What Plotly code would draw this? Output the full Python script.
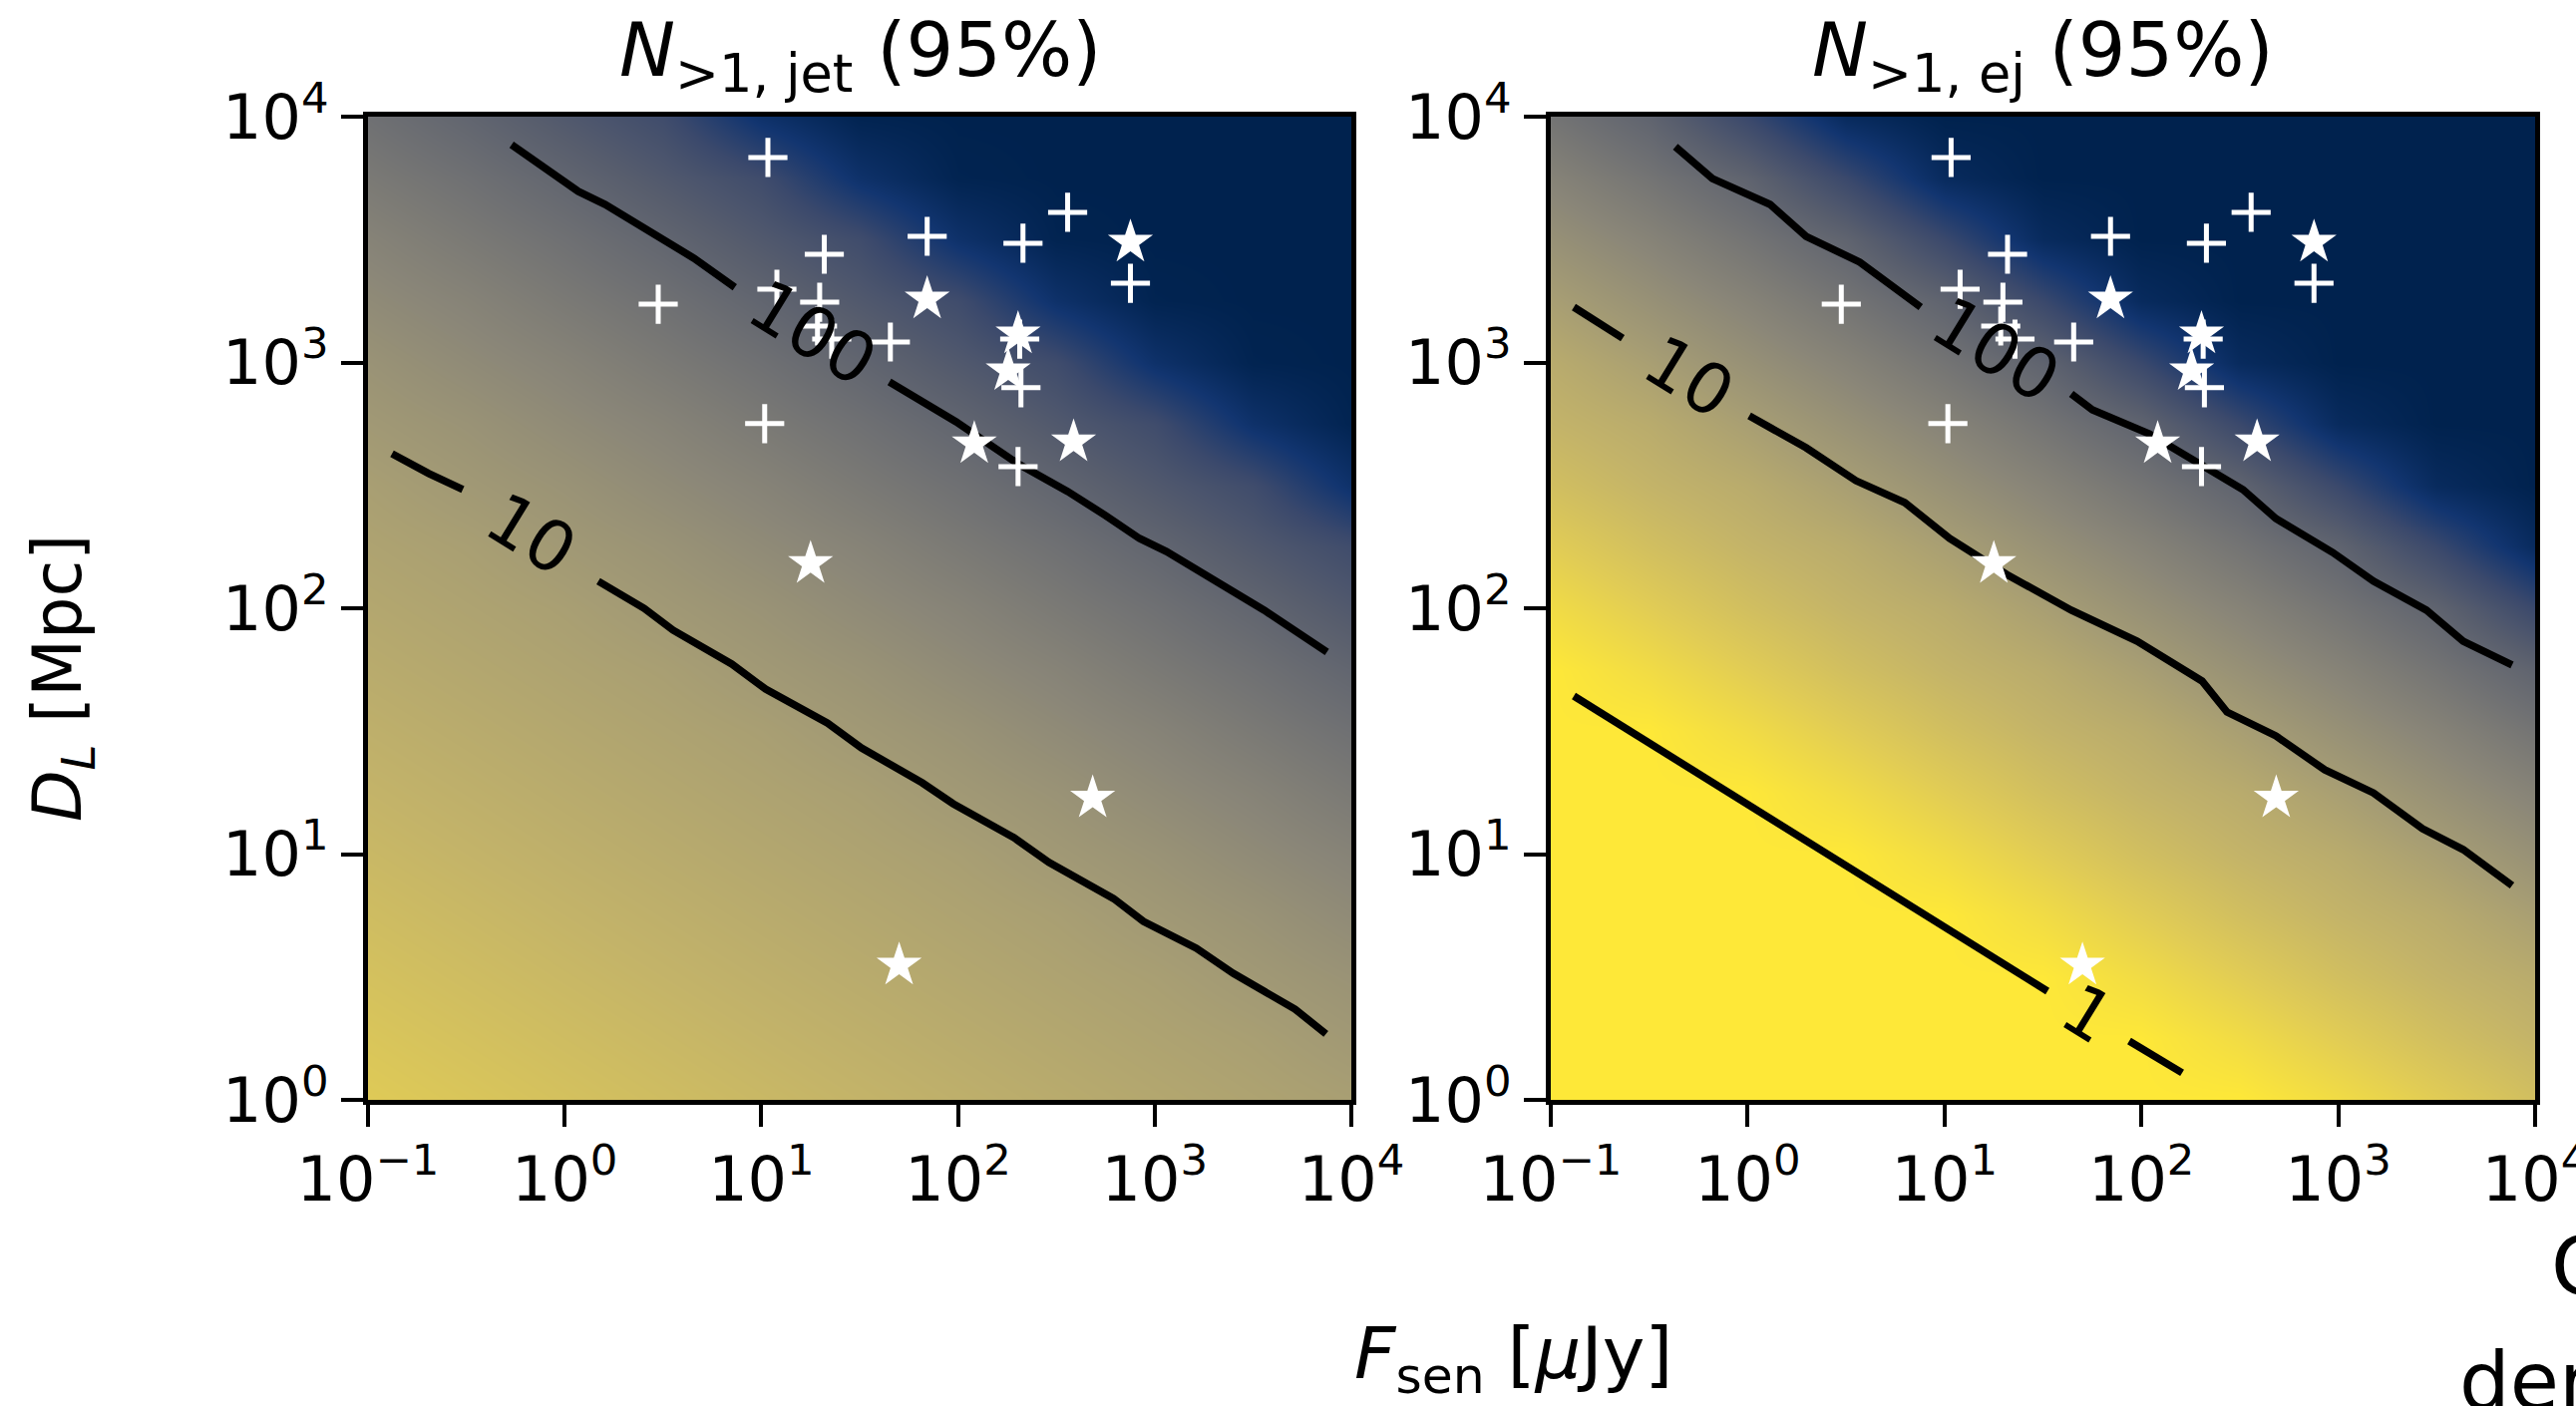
import numpy as np
import plotly.graph_objects as go

W, H = 2583, 1410

# ---------------- data ----------------
# background colour field (0..1 on cividis), read on a grid (log10 units)
grid_logF = [-1.0, -0.5, 0.0, 0.5, 1.0, 1.5, 2.0, 2.5, 3.0, 3.5, 4.0]
grid_logD = [0.0, 0.25, 0.5, 0.75, 1.0, 1.25, 1.5, 1.75, 2.0, 2.25, 2.5, 2.75, 3.0, 3.25, 3.5, 3.75, 4.0]

frac_jet = [
    [.88, .86, .84, .82, .80, .78, .76, .74, .72, .70, .68],
    [.86, .84, .82, .80, .78, .76, .74, .72, .70, .68, .65],
    [.84, .82, .80, .78, .76, .74, .72, .70, .68, .65, .62],
    [.82, .80, .78, .76, .74, .72, .70, .68, .65, .62, .58],
    [.80, .78, .76, .74, .72, .70, .68, .65, .62, .58, .54],
    [.78, .76, .74, .72, .70, .68, .65, .62, .58, .54, .49],
    [.76, .74, .72, .70, .68, .65, .62, .58, .54, .49, .44],
    [.74, .72, .70, .68, .65, .62, .58, .54, .49, .44, .38],
    [.72, .70, .68, .65, .62, .58, .54, .49, .44, .38, .31],
    [.70, .68, .65, .62, .58, .54, .49, .44, .38, .31, .24],
    [.68, .65, .62, .58, .54, .49, .44, .38, .31, .24, .09],
    [.65, .62, .58, .54, .49, .44, .38, .31, .24, .09, .01],
    [.62, .58, .54, .49, .44, .38, .31, .24, .09, .01, 0.0],
    [.58, .54, .49, .44, .38, .31, .24, .09, .01, 0.0, 0.0],
    [.54, .49, .44, .38, .31, .24, .09, .01, 0.0, 0.0, 0.0],
    [.49, .44, .38, .31, .24, .09, .01, 0.0, 0.0, 0.0, 0.0],
    [.44, .38, .31, .24, .09, .01, 0.0, 0.0, 0.0, 0.0, 0.0],
]
frac_ej = [
    [1.0, 1.0, 1.0, 1.0, 1.0, 1.0, 1.0, 1.0, .95, .89, .83],
    [1.0, 1.0, 1.0, 1.0, 1.0, 1.0, 1.0, .95, .89, .83, .78],
    [1.0, 1.0, 1.0, 1.0, 1.0, 1.0, .95, .89, .83, .78, .74],
    [1.0, 1.0, 1.0, 1.0, 1.0, .95, .89, .83, .78, .74, .68],
    [1.0, 1.0, 1.0, 1.0, .95, .89, .83, .78, .74, .68, .61],
    [1.0, 1.0, 1.0, .95, .89, .83, .78, .74, .68, .61, .54],
    [1.0, 1.0, .95, .89, .83, .78, .74, .68, .61, .54, .46],
    [1.0, .95, .89, .83, .78, .74, .68, .61, .54, .46, .37],
    [.95, .89, .83, .78, .74, .68, .61, .54, .46, .37, .22],
    [.89, .83, .78, .74, .68, .61, .54, .46, .37, .22, .05],
    [.83, .78, .74, .68, .61, .54, .46, .37, .22, .05, 0.0],
    [.78, .74, .68, .61, .54, .46, .37, .22, .05, 0.0, 0.0],
    [.74, .68, .61, .54, .46, .37, .22, .05, 0.0, 0.0, 0.0],
    [.68, .61, .54, .46, .37, .22, .05, 0.0, 0.0, 0.0, 0.0],
    [.61, .54, .46, .37, .22, .05, 0.0, 0.0, 0.0, 0.0, 0.0],
    [.54, .46, .37, .22, .05, 0.0, 0.0, 0.0, 0.0, 0.0, 0.0],
    [.46, .37, .22, .05, 0.0, 0.0, 0.0, 0.0, 0.0, 0.0, 0.0],
]

# contour lines (log10 F, log10 D); None = gap for the label
jet_100_logF = [-0.270, 0.069, 0.206, 0.526, 0.657, 0.865, None, 1.651, 1.990, 2.305, 2.558, 2.751, 2.923, 3.060, 3.374, 3.557, 3.876]
jet_100_logD = [3.886, 3.696, 3.643, 3.489, 3.424, 3.306, None, 2.921, 2.759, 2.588, 2.475, 2.377, 2.284, 2.231, 2.085, 1.992, 1.822]
jet_10_logF = [-0.878, -0.691, -0.518, None, 0.171, 0.404, 0.551, 0.850, 1.022, 1.337, 1.509, 1.818, 1.975, 2.284, 2.462, 2.791, 2.943, 3.212, 3.399, 3.714, 3.871]
jet_10_logD = [2.629, 2.548, 2.483, None, 2.110, 2.000, 1.911, 1.773, 1.671, 1.533, 1.432, 1.290, 1.205, 1.067, 0.966, 0.819, 0.726, 0.617, 0.515, 0.369, 0.268]

ej_100_logF = [-0.367, -0.179, 0.114, 0.297, 0.570, 0.778, 0.879, None, 1.644, 1.751, 2.040, 2.268, 2.516, 2.683, 2.972, 3.179, 3.448, 3.635, 3.883]
ej_100_logD = [3.878, 3.748, 3.643, 3.513, 3.408, 3.290, 3.225, None, 2.872, 2.807, 2.710, 2.600, 2.483, 2.365, 2.227, 2.110, 1.992, 1.866, 1.769]
ej_10_logF = [-0.883, -0.635, None, 0.008, 0.297, 0.550, 0.798, 1.026, 1.315, 1.644, 1.979, 2.308, 2.435, 2.683, 2.931, 3.179, 3.428, 3.635, 3.883]
ej_10_logD = [3.225, 3.099, None, 2.783, 2.653, 2.519, 2.430, 2.284, 2.138, 1.992, 1.866, 1.704, 1.578, 1.481, 1.343, 1.249, 1.103, 1.018, 0.872]
ej_1_logF = [-0.883, 0.320, 1.523, None, 1.938, 2.207]
ej_1_logD = [1.643, 1.043, 0.442, None, 0.239, 0.110]

# contour labels: text, log10 F, log10 D
jet_labels = [("100", 1.26, 3.12), ("10", -0.17, 2.30)]
ej_labels = [("100", 1.26, 3.05), ("10", -0.30, 2.94), ("1", 1.73, 0.35)]

# events: F_sen [uJy], D_L [Mpc]
plus_F = [10.8, 361, 69.7, 214, 20.9, 753, 2.99, 12.0, 19.8, 19.3, 22.8, 45.3, 206, 209, 10.4, 202]
plus_D = [6820, 4080, 3260, 3055, 2755, 2100, 1726, 1986, 1758, 1406, 1245, 1211, 1245, 789, 564, 377]
star_F = [753, 69.7, 202, 180, 121, 387, 17.8, 484, 50.2]
star_D = [3083, 1811, 1306, 925, 467, 475, 152, 16.9, 3.53]

tick_vals_x = [-1, 0, 1, 2, 3, 4]
tick_text_x = ["10<sup>\u22121</sup>", "10<sup>0</sup>", "10<sup>1</sup>", "10<sup>2</sup>", "10<sup>3</sup>", "10<sup>4</sup>"]
tick_vals_y = [0, 1, 2, 3, 4]
tick_text_y = ["10<sup>0</sup>", "10<sup>1</sup>", "10<sup>2</sup>", "10<sup>3</sup>", "10<sup>4</sup>"]

titles = ["<i>N</i><sub>&gt;1, jet</sub> (95%)", "<i>N</i><sub>&gt;1, ej</sub> (95%)"]

# ---------------- figure ----------------
FONT = "DejaVu Sans"
fig = go.Figure()

panels = [
    ("x", "y", frac_jet, [(jet_100_logF, jet_100_logD), (jet_10_logF, jet_10_logD)], jet_labels),
    ("x2", "y2", frac_ej, [(ej_100_logF, ej_100_logD), (ej_10_logF, ej_10_logD), (ej_1_logF, ej_1_logD)], ej_labels),
]

lpF = np.log10(plus_F)
lpD = np.log10(plus_D)
lsF = np.log10(star_F)
lsD = np.log10(star_D)

annotations = []
for xa, ya, z, lines, labels in panels:
    fig.add_trace(go.Heatmap(x=grid_logF, y=grid_logD, z=z, colorscale="Cividis",
                             zmin=0, zmax=1, zsmooth="best", showscale=False,
                             xaxis=xa, yaxis=ya, hoverinfo="skip"))
    for lf, ld in lines:
        fig.add_trace(go.Scatter(x=lf, y=ld, mode="lines", connectgaps=False,
                                 line=dict(color="black", width=7.5),
                                 xaxis=xa, yaxis=ya, hoverinfo="skip"))
    fig.add_trace(go.Scatter(x=lpF, y=lpD, mode="markers",
                             marker=dict(symbol="cross-thin", size=28,
                                         line=dict(color="white", width=5)),
                             xaxis=xa, yaxis=ya))
    fig.add_trace(go.Scatter(x=lsF, y=lsD, mode="markers",
                             marker=dict(symbol="star", size=34, color="white",
                                         line=dict(width=0)),
                             xaxis=xa, yaxis=ya))
    for txt, lf, ld in labels:
        annotations.append(dict(text=txt, x=lf, y=ld, xref=xa, yref=ya,
                                showarrow=False, textangle=31.5,
                                font=dict(family=FONT, size=70, color="black"),
                                xanchor="center", yanchor="middle"))

axis_common = dict(showline=True, linewidth=5, linecolor="black", mirror=True,
                   ticks="outside", ticklen=22, tickwidth=4, tickcolor="black",
                   showgrid=False, zeroline=False, automargin=False,
                   ticklabeloverflow="allow",
                   tickfont=dict(family=FONT, size=62, color="black"))

y0, y1 = 1 - 1103 / H, 1 - 117 / H
fig.update_layout(
    width=W, height=H, autosize=False,
    margin=dict(l=0, r=0, t=0, b=0, pad=0, autoexpand=False),
    paper_bgcolor="white", plot_bgcolor="white", showlegend=False,
    font=dict(family=FONT, color="black"),
    xaxis=dict(domain=[369 / W, 1355 / W], range=[-1, 4], tickvals=tick_vals_x,
               ticktext=tick_text_x, anchor="y", **axis_common),
    yaxis=dict(domain=[y0, y1], range=[0, 4], tickvals=tick_vals_y,
               ticktext=tick_text_y, anchor="x", **axis_common),
    xaxis2=dict(domain=[1555 / W, 2542 / W], range=[-1, 4], tickvals=tick_vals_x,
                ticktext=tick_text_x, anchor="y2", **axis_common),
    yaxis2=dict(domain=[y0, y1], range=[0, 4], tickvals=tick_vals_y,
                ticktext=tick_text_y, anchor="x2", **axis_common),
)

# panel titles
for txt, cx in zip(titles, [862 / W, 2048 / W]):
    annotations.append(dict(text=txt, x=cx, y=1 - 55 / H, xref="paper", yref="paper",
                            showarrow=False, xanchor="center", yanchor="middle",
                            font=dict(family=FONT, size=75, color="black")))

# shared axis labels
annotations.append(dict(text="<i>F</i><sub>sen</sub> [<i>\u03bc</i>Jy]", x=1517 / W, y=1 - 1362 / H,
                        xref="paper", yref="paper", showarrow=False,
                        xanchor="center", yanchor="middle",
                        font=dict(family=FONT, size=72, color="black")))
annotations.append(dict(text="<i>D</i><sub><i>L</i></sub> [Mpc]", x=62 / W, y=1 - 680 / H,
                        xref="paper", yref="paper", showarrow=False, textangle=-90,
                        xanchor="center", yanchor="middle",
                        font=dict(family=FONT, size=67, color="black")))

# colour-bar label, cut by the figure edge
annotations.append(dict(text="C", x=2556 / W, y=1 - 1270 / H, xref="paper", yref="paper",
                        showarrow=False, xanchor="left", yanchor="middle",
                        font=dict(family=FONT, size=80, color="black")))
annotations.append(dict(text="der", x=2464 / W, y=1 - 1385 / H, xref="paper", yref="paper",
                        showarrow=False, xanchor="left", yanchor="middle",
                        font=dict(family=FONT, size=80, color="black")))

fig.update_layout(annotations=annotations)
fig.write_html("out.html")
